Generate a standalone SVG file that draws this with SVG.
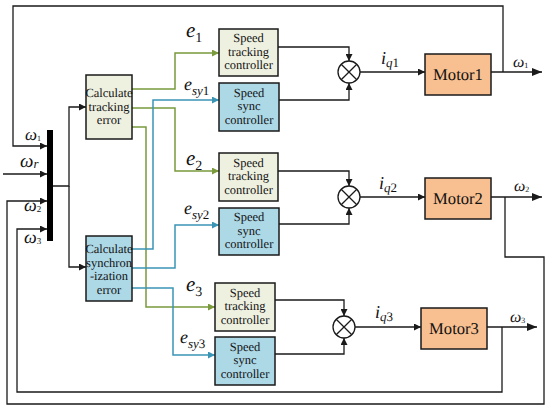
<svg xmlns="http://www.w3.org/2000/svg" width="550" height="411" viewBox="0 0 550 411" text-rendering="geometricPrecision">
<defs>
<style>
.box{stroke:#1a1a1a;stroke-width:1.5}
.beige{fill:#eef0e0}
.blue{fill:#add8e6}
.motor{fill:#f8bf90}
.t{font-family:'Liberation Serif','Times New Roman',serif;font-size:12.5px;fill:#111;text-anchor:middle;text-rendering:geometricPrecision}
.mt{font-family:'Liberation Serif','Times New Roman',serif;font-size:16.6px;fill:#111;text-anchor:middle;text-rendering:geometricPrecision}
.lab{font-family:'Liberation Serif','Times New Roman',serif;font-style:italic;fill:#111;text-rendering:geometricPrecision}
.k{fill:none;stroke:#1a1a1a;stroke-width:1.3}
.g{fill:none;stroke:#7a9a3c;stroke-width:1.5}
.b{fill:none;stroke:#3a95b5;stroke-width:1.5}
</style>
<marker id="ak" viewBox="0 0 10 10" refX="10" refY="5" markerWidth="7" markerHeight="7" markerUnits="userSpaceOnUse" orient="auto"><path d="M0,0L10,5L0,10z" fill="#1a1a1a"/></marker>
<marker id="akb" viewBox="0 0 10 10" refX="10" refY="5" markerWidth="10" markerHeight="10" markerUnits="userSpaceOnUse" orient="auto"><path d="M0,1L10,5L0,9z" fill="#1a1a1a"/></marker>
<marker id="ag" viewBox="0 0 10 10" refX="10" refY="5" markerWidth="7" markerHeight="7" markerUnits="userSpaceOnUse" orient="auto"><path d="M0,0L10,5L0,10z" fill="#7a9a3c"/></marker>
<marker id="ab" viewBox="0 0 10 10" refX="10" refY="5" markerWidth="7" markerHeight="7" markerUnits="userSpaceOnUse" orient="auto"><path d="M0,0L10,5L0,10z" fill="#3a95b5"/></marker>
</defs>
<rect width="550" height="411" fill="#fff"/>

<g id="connectors">
<path class="k" d="M503,72V6H13V146H47" marker-end="url(#ak)"/>
<path class="k" d="M3,174H47" marker-end="url(#ak)"/>
<path class="k" d="M505,197V257H544V404H7V201H47" marker-end="url(#ak)"/>
<path class="k" d="M502,327V392H17V229H47" marker-end="url(#ak)"/>
<path class="k" d="M52,186H69V107H86" marker-end="url(#ak)"/>
<path class="k" d="M69,186V267H86" marker-end="url(#ak)"/>
<path class="g" d="M132,89H175V53H219" marker-end="url(#ag)"/>
<path class="g" d="M132,108H175V171H219" marker-end="url(#ag)"/>
<path class="g" d="M132,127H146V307H215" marker-end="url(#ag)"/>
<path class="b" d="M132,249H153V100H219" marker-end="url(#ab)"/>
<path class="b" d="M132,268H175V225H219" marker-end="url(#ab)"/>
<path class="b" d="M132,288H173V355H215" marker-end="url(#ab)"/>
<path class="k" d="M278,47H349V61" marker-end="url(#ak)"/>
<path class="k" d="M279,100H349V83" marker-end="url(#ak)"/>
<path class="k" d="M278,171H349V186" marker-end="url(#ak)"/>
<path class="k" d="M279,224H349V208" marker-end="url(#ak)"/>
<path class="k" d="M275,300H344V316" marker-end="url(#ak)"/>
<path class="k" d="M275,354H344V338" marker-end="url(#ak)"/>
<path class="k" d="M360,72H425" marker-end="url(#ak)"/>
<path class="k" d="M360,197H425" marker-end="url(#ak)"/>
<path class="k" d="M355,327H421" marker-end="url(#ak)"/>
<path class="k" d="M491,72H542" marker-end="url(#akb)"/>
<path class="k" d="M491,197H542" marker-end="url(#akb)"/>
<path class="k" d="M487,327H537" marker-end="url(#akb)"/>
</g>

<g id="mux">
<rect x="47" y="130" width="6" height="111" fill="#000"/>
</g>

<g id="calc-tracking">
<rect class="box beige" x="86" y="75" width="46" height="64"/>
<text class="t" font-family="Liberation Serif"><tspan x="109" y="97">Calculate</tspan><tspan x="109" y="111">tracking</tspan><tspan x="109" y="124">error</tspan></text>
</g>
<g id="calc-sync">
<rect class="box blue" x="86" y="236" width="46" height="65"/>
<text class="t" font-family="Liberation Serif"><tspan x="109" y="253">Calculate</tspan><tspan x="109" y="267">synchron</tspan><tspan x="109" y="280">-ization</tspan><tspan x="109" y="294">error</tspan></text>
</g>

<g id="track1">
<rect class="box beige" x="219" y="29" width="59" height="47"/>
<text class="t" font-family="Liberation Serif"><tspan x="248.5" y="42">Speed</tspan><tspan x="248.5" y="56">tracking</tspan><tspan x="248.5" y="69">controller</tspan></text>
</g>
<g id="sync1">
<rect class="box blue" x="219" y="83" width="60" height="48"/>
<text class="t" font-family="Liberation Serif"><tspan x="249" y="97">Speed</tspan><tspan x="249" y="110">sync</tspan><tspan x="249" y="124">controller</tspan></text>
</g>
<g id="track2">
<rect class="box beige" x="219" y="153" width="59" height="48"/>
<text class="t" font-family="Liberation Serif"><tspan x="248.5" y="167">Speed</tspan><tspan x="248.5" y="180">tracking</tspan><tspan x="248.5" y="194">controller</tspan></text>
</g>
<g id="sync2">
<rect class="box blue" x="219" y="208" width="60" height="47"/>
<text class="t" font-family="Liberation Serif"><tspan x="249" y="221">Speed</tspan><tspan x="249" y="235">sync</tspan><tspan x="249" y="248">controller</tspan></text>
</g>
<g id="track3">
<rect class="box beige" x="215" y="283" width="60" height="48"/>
<text class="t" font-family="Liberation Serif"><tspan x="245" y="297">Speed</tspan><tspan x="245" y="310">tracking</tspan><tspan x="245" y="324">controller</tspan></text>
</g>
<g id="sync3">
<rect class="box blue" x="215" y="337" width="60" height="48"/>
<text class="t" font-family="Liberation Serif"><tspan x="245" y="351">Speed</tspan><tspan x="245" y="364">sync</tspan><tspan x="245" y="378">controller</tspan></text>
</g>

<g id="mult1">
<circle cx="349" cy="72" r="11" fill="#fff" stroke="#1a1a1a" stroke-width="1.3"/>
<path class="k" d="M341.2,64.2L356.8,79.8M356.8,64.2L341.2,79.8"/>
</g>
<g id="mult2">
<circle cx="349" cy="197" r="11" fill="#fff" stroke="#1a1a1a" stroke-width="1.3"/>
<path class="k" d="M341.2,189.2L356.8,204.8M356.8,189.2L341.2,204.8"/>
</g>
<g id="mult3">
<circle cx="344" cy="327" r="11" fill="#fff" stroke="#1a1a1a" stroke-width="1.3"/>
<path class="k" d="M336.2,319.2L351.8,334.8M351.8,319.2L336.2,334.8"/>
</g>

<g id="motor1">
<rect class="box motor" x="425" y="54" width="66" height="41"/>
<text class="mt" font-family="Liberation Serif" x="458" y="80">Motor1</text>
</g>
<g id="motor2">
<rect class="box motor" x="425" y="178" width="66" height="41"/>
<text class="mt" font-family="Liberation Serif" x="458" y="204">Motor2</text>
</g>
<g id="motor3">
<rect class="box motor" x="421" y="308" width="66" height="41"/>
<text class="mt" font-family="Liberation Serif" x="454" y="334">Motor3</text>
</g>

<g id="labels">
<text class="lab" font-family="Liberation Serif" x="186" y="37" font-size="21">e<tspan font-style="normal" font-size="14" dy="5">1</tspan></text>
<text class="lab" font-family="Liberation Serif" x="184" y="90" font-size="18">e<tspan font-size="13" dy="5">sy</tspan><tspan font-style="normal" font-size="13">1</tspan></text>
<text class="lab" font-family="Liberation Serif" x="186" y="165" font-size="21">e<tspan font-style="normal" font-size="14" dy="5">2</tspan></text>
<text class="lab" font-family="Liberation Serif" x="184" y="214" font-size="18">e<tspan font-size="13" dy="5">sy</tspan><tspan font-style="normal" font-size="13">2</tspan></text>
<text class="lab" font-family="Liberation Serif" x="186" y="291" font-size="21">e<tspan font-style="normal" font-size="14" dy="5">3</tspan></text>
<text class="lab" font-family="Liberation Serif" x="180" y="343" font-size="18">e<tspan font-size="13" dy="5">sy</tspan><tspan font-style="normal" font-size="13">3</tspan></text>
<text class="lab" font-family="Liberation Serif" x="381" y="64" font-size="18">i<tspan font-size="13" dy="3">q</tspan><tspan font-style="normal" font-size="13">1</tspan></text>
<text class="lab" font-family="Liberation Serif" x="379" y="189" font-size="18">i<tspan font-size="13" dy="3">q</tspan><tspan font-style="normal" font-size="13">2</tspan></text>
<text class="lab" font-family="Liberation Serif" x="375" y="318" font-size="18">i<tspan font-size="13" dy="3">q</tspan><tspan font-style="normal" font-size="13">3</tspan></text>
<text class="lab" font-family="Liberation Serif" x="25" y="140" font-size="17">ω<tspan font-style="normal" font-size="8" dy="1">1</tspan></text>
<text class="lab" font-family="Liberation Serif" x="20" y="167" font-size="19">ω<tspan font-size="13" dy="1">r</tspan></text>
<text class="lab" font-family="Liberation Serif" x="24" y="211" font-size="18">ω<tspan font-style="normal" font-size="9" dy="1">2</tspan></text>
<text class="lab" font-family="Liberation Serif" x="24" y="243" font-size="18">ω<tspan font-style="normal" font-size="9" dy="1">3</tspan></text>
<text class="lab" font-family="Liberation Serif" x="513" y="67" font-size="16">ω<tspan font-style="normal" font-size="8" dy="1">1</tspan></text>
<text class="lab" font-family="Liberation Serif" x="514" y="191" font-size="16">ω<tspan font-style="normal" font-size="8" dy="1">2</tspan></text>
<text class="lab" font-family="Liberation Serif" x="510" y="322" font-size="16">ω<tspan font-style="normal" font-size="8" dy="1">3</tspan></text>
</g>
</svg>
